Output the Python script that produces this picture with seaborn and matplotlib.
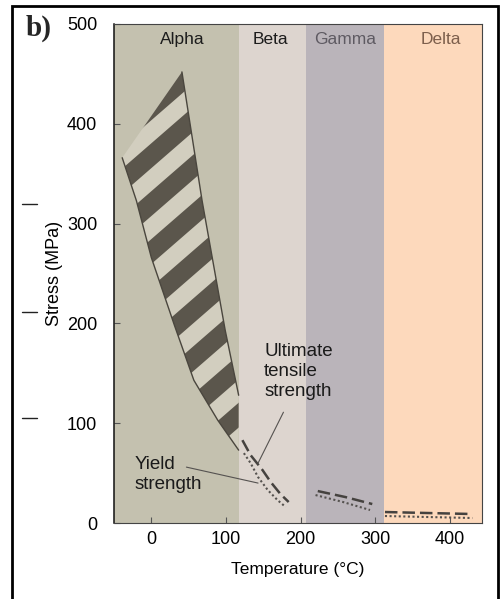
import numpy as np
import seaborn as sns
import matplotlib.pyplot as plt
from matplotlib.patches import Polygon, Rectangle
from matplotlib.lines import Line2D

# phase regions along the temperature axis (deg C)
phases = ['Alpha', 'Beta', 'Gamma', 'Delta']
phase_start = [-50, 117, 207, 312]
phase_end = [117, 207, 312, 445]
phase_colors = ['#c4c1af', '#ddd5cf', '#bab4ba', '#fdd9bc']
phase_label_T = [41, 160, 260, 388]
phase_label_colors = ['#1c1c1c', '#1c1c1c', '#5e5a62', '#7d5f4c']

# hatched band in the alpha region
band_low_T = [-39, -20, 0, 31, 57, 89, 117]
band_low_S = [366, 323, 266, 198, 143, 103, 73]
band_high_T = [41, 68, 99, 117]
band_high_S = [452, 323, 193, 128]

# ultimate tensile strength (dashed) and yield strength (dotted)
uts_T = [[122, 133, 149, 160, 173, 184], [223, 260, 296], [313, 370, 430]]
uts_S = [[83, 68, 53, 41, 29, 21], [32, 26, 19], [11, 10, 9]]
ys_T = [[124, 133, 143, 156, 169, 180], [220, 257, 293], [313, 370, 430]]
ys_S = [[70, 60, 46, 33, 23, 16], [28, 21, 13], [7, 6, 5]]

sns.set_theme(style='ticks')
plt.rcParams['font.family'] = ['Liberation Sans', 'DejaVu Sans']

fig = plt.figure(figsize=(5.01, 5.99), dpi=100)
ax = fig.add_axes([114 / 501, 1 - 523 / 599, 368 / 501, 499 / 599])

for name, s, e, c, lx, lc in zip(phases, phase_start, phase_end, phase_colors,
                                 phase_label_T, phase_label_colors):
    ax.axvspan(s, e, color=c, lw=0, zorder=0)
    ax.text(lx, 484, name, ha='center', va='center', fontsize=12.5, color=lc)

# band outline and diagonal stripes
verts = list(zip(band_low_T, band_low_S)) + list(zip(band_high_T[::-1], band_high_S[::-1]))
band = Polygon(verts, closed=True, fc='#d2cebf', ec='none', zorder=2)
ax.add_patch(band)
for b in np.arange(416, 0, -48):
    ln, = ax.plot([-60, 130], [b - 0.65 * 60, b + 0.65 * 130], color='#5b564c',
                  lw=13.5, solid_capstyle='butt', zorder=3)
    ln.set_clip_path(band)
ax.plot(band_low_T, band_low_S, color='#4a463e', lw=1, zorder=4)
ax.plot(band_high_T, band_high_S, color='#4a463e', lw=1, zorder=4)

for tx, sy in zip(uts_T, uts_S):
    sns.lineplot(x=tx, y=sy, ax=ax, color='#45423f', lw=1.8,
                 linestyle=(0, (5, 2)), zorder=5)
for tx, sy in zip(ys_T, ys_S):
    sns.lineplot(x=tx, y=sy, ax=ax, color='#55524f', lw=1.5,
                 linestyle=(0, (1, 1.2)), zorder=5)

# annotations
ax.text(151, 180, 'Ultimate\ntensile\nstrength', ha='left', va='top',
        fontsize=13.5, color='#1a1a1a', linespacing=1.2, zorder=6)
ax.plot([177, 143], [111, 60], color='#555250', lw=0.8, zorder=6)
ax.text(-23, 67, 'Yield\nstrength', ha='left', va='top',
        fontsize=13.5, color='#1a1a1a', linespacing=1.2, zorder=6)
ax.plot([47, 143], [56, 40], color='#555250', lw=0.8, zorder=6)

ax.set_xlim(-50, 443)
ax.set_ylim(0, 500)
ax.set_xticks([0, 100, 200, 300, 400])
ax.set_yticks([0, 100, 200, 300, 400, 500])
ax.tick_params(direction='in', length=4, width=0.8, color='#555555',
               labelsize=13, labelcolor='black')
ax.tick_params(axis='y', pad=12)
ax.tick_params(axis='x', pad=6)
for sp in ax.spines.values():
    sp.set_color('#444444')
    sp.set_linewidth(0.8)
ax.spines['left'].set_color('#111111')
ax.spines['left'].set_linewidth(1.1)

ax.set_xlabel('Temperature (°C)', fontsize=12.5, labelpad=10, color='black')
ax.set_ylabel('Stress (MPa)', fontsize=13, labelpad=3, color='black')

fig.text(26 / 501, 1 - 15 / 599, 'b)', ha='left', va='top', fontsize=21,
         fontweight='bold', family=['Liberation Serif', 'DejaVu Serif'])
fig.add_artist(Rectangle((12 / 501, -0.05), 486 / 501, 1.05 - 6 / 599,
                         transform=fig.transFigure, fill=False, lw=2, ec='black'))
for yp in [204, 312, 418]:
    fig.add_artist(Line2D([22 / 501, 37 / 501], [1 - yp / 599] * 2,
                          transform=fig.transFigure, color='#222222', lw=1))

fig.savefig('out.png', dpi=100)
